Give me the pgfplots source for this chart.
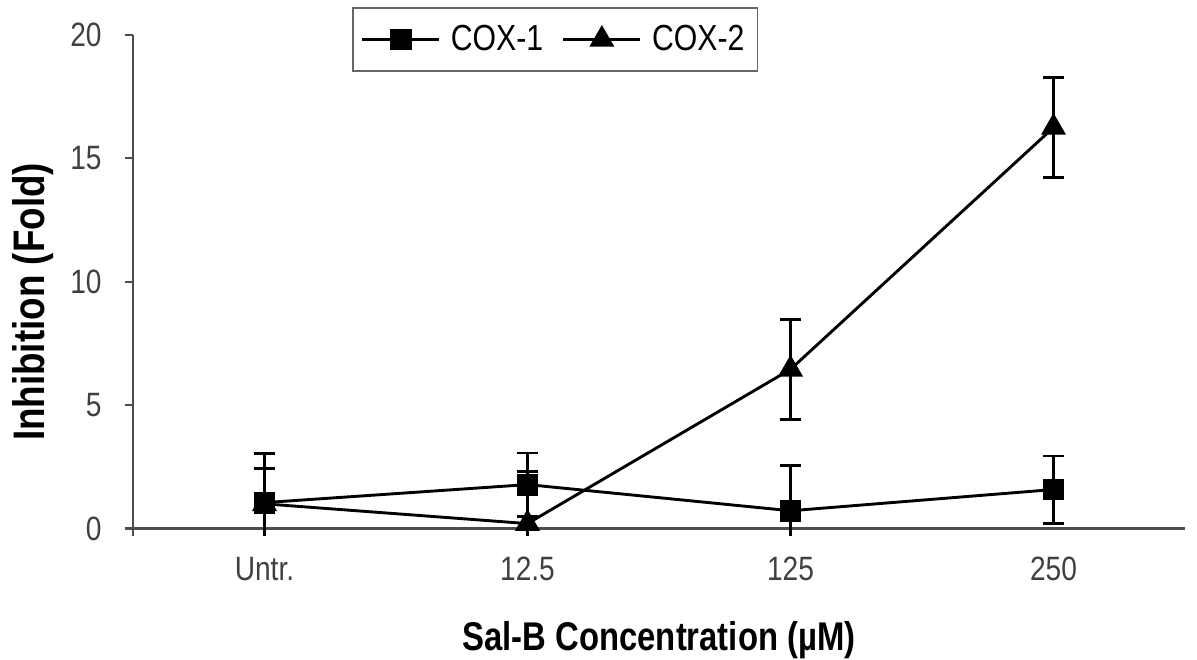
\documentclass[border=0pt]{standalone}
\usepackage{pgfplots}
\pgfplotsset{compat=1.18}
\usepackage{fontspec}
\setmainfont{Liberation Sans}
\newcommand{\st}[1]{\scalebox{1}[1.2]{#1}}
\begin{document}
\begin{tikzpicture}
\begin{axis}[
  scale only axis,
  width=14.07cm, height=6.70cm,
  xmin=-0.5, xmax=3.5, ymin=-0.3, ymax=20,
  axis y line=left, axis x line=middle,
  axis line style={-, draw=black!70, line width=0.8pt},
  xtick={0,1,2,3},
  xticklabels={\st{Untr.},\st{12.5},\st{125},\st{250}},
  x tick style={draw=none},
  extra x ticks={-0.5,0.5,1.5,2.5,3.5},
  extra x tick labels={},
  extra x tick style={tick style={draw=black!70, line width=0.8pt}, major tick length=0.11cm, tick align=outside},
  ytick={0,5,10,15,20},
  yticklabels={\st{0},\st{5},\st{10},\st{15},\st{20}},
  y tick style={draw=black!70, line width=0.8pt},
  major tick length=0.11cm,
  tick align=outside,
  tick label style={font=\fontsize{10.7}{13}\selectfont, text=black!75},
  xticklabel style={anchor=base, yshift=-16.8pt},
  yticklabel style={anchor=east, xshift=-5.3pt},
  xlabel={\scalebox{1}[1.22]{\textbf{Sal-B Concentration (µM)}}},
  ylabel={\scalebox{1}[1.2]{\textbf{Inhibition (Fold)}}},
  xlabel style={font=\fontsize{12.5}{15}\selectfont, at={(axis description cs:0.5,-0.2286)}, anchor=base},
  ylabel style={font=\fontsize{14}{16}\selectfont, at={(axis description cs:-0.0837,0.467)}, anchor=base},
  legend style={at={(0.2082,1.0558)}, anchor=north west, draw=black!60, line width=0.6pt,
    font=\fontsize{11.5}{13}\selectfont, inner ysep=4.5pt, inner xsep=3pt,
    /tikz/every odd column/.append style={column sep=1.9pt},
    /tikz/every even column/.append style={column sep=0.18cm}},
  legend columns=2,
  legend image code/.code={\draw[mark repeat=2,mark phase=2] plot coordinates {(0cm,0cm)(0.515cm,0cm)(1.03cm,0cm)};},
  error bars/error bar style={line width=1.1pt, black},
  error bars/error mark options={rotate=90, mark size=4.1pt, line width=1.1pt, black},
]
\coordinate (bbSW) at (rel axis cs:-0.1264,-0.2465);
\coordinate (bbNE) at (rel axis cs:1.0114,1.0698);
\addplot+[black, line width=1.1pt, mark=square*, mark size=3.6pt, mark options={solid, fill=black},
  error bars/.cd, y dir=both, y explicit]
  coordinates {
  (0,1.05) +- (0,1.40)
  (1,1.78) +- (0,1.28)
  (2,0.72) +- (0,1.84)
  (3,1.58) +- (0,1.36)
  };
\addlegendentry{\st{COX-1}}
\addplot+[black, line width=1.1pt, mark=triangle*, mark size=4.4pt, mark options={solid, fill=black},
  error bars/.cd, y dir=both, y explicit]
  coordinates {
  (0,1.00) +- (0,2.05)
  (1,0.20) +- (0,2.10)
  (2,6.45) +- (0,2.03)
  (3,16.25) +- (0,2.02)
  };
\addlegendentry{\st{COX-2}}
\end{axis}
\pgfresetboundingbox
\path[use as bounding box] (bbSW) rectangle (bbNE);
\end{tikzpicture}
\end{document}
